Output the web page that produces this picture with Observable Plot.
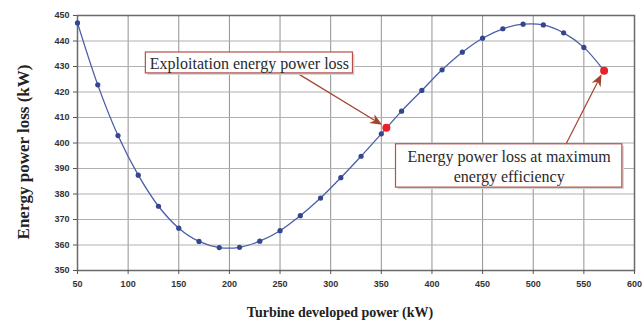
<!DOCTYPE html>
<html>
<head>
<meta charset="utf-8">
<script src="https://cdn.jsdelivr.net/npm/d3@7"></script>
<script src="https://cdn.jsdelivr.net/npm/@observablehq/plot@0.6"></script>
<style>
  html, body { margin: 0; padding: 0; background: #fff; }
  #chart svg { display: block; }
</style>
</head>
<body>
<div id="chart"></div>
<script>
// Curve samples: turbine developed power (kW) vs energy power loss (kW)
const power = [50, 70, 90, 110, 130, 150, 170, 190, 210, 230, 250, 270, 290, 310, 330, 350, 370, 390, 410, 430, 450, 470, 490, 510, 530, 550];
const loss  = [447.1, 422.8, 402.9, 387.4, 375.2, 366.6, 361.4, 359.0, 359.1, 361.5, 365.6, 371.5, 378.4, 386.4, 394.8, 403.6, 412.5, 420.6, 428.7, 435.6, 441.1, 444.8, 446.6, 446.3, 443.2, 437.5];

// Highlighted points
const highlightPower = [355, 570];
const highlightLoss  = [406.0, 428.3];

// Annotation labels (box extents and arrow starts in data units)
const annLabels = [["Exploitation energy power loss"], ["Energy power loss at maximum", "energy efficiency"]];
const annBoxX1 = [117.5, 364.5];
const annBoxX2 = [322, 588];
const annBoxY1 = [435.5, 399.5];
const annBoxY2 = [427.3, 382.5];
const annFromX = [267, 533];
const annFromY = [427.3, 399.5];

const xTicks = d3.range(50, 601, 50);
const yTicks = d3.range(350, 451, 10);

const xTitle = "Turbine developed power (kW)";
const yTitle = "Energy power loss (kW)";

const curve = power.map((p, i) => ({x: p, y: loss[i]}));
curve.push({x: highlightPower[1], y: highlightLoss[1]});
const samples = power.map((p, i) => ({x: p, y: loss[i]}));
const highlights = highlightPower.map((p, i) => ({x: p, y: highlightLoss[i]}));
const boxes = annLabels.map((lines, i) => ({
  x1: annBoxX1[i], x2: annBoxX2[i], y1: annBoxY1[i], y2: annBoxY2[i],
  cx: (annBoxX1[i] + annBoxX2[i]) / 2, cy: (annBoxY1[i] + annBoxY2[i]) / 2,
  text: lines.join("\n"),
  fx: annFromX[i], fy: annFromY[i], tx: highlightPower[i], ty: highlightLoss[i]
}));

const serif = "'Liberation Serif', 'Times New Roman', serif";
const sans = "'Liberation Sans', Arial, sans-serif";
const arrowColor = "#a3432d";

// custom arrows with filled heads
function arrows(index, scales) {
  const g = d3.create("svg:g");
  for (const b of boxes) {
    const x0 = scales.x(b.fx), y0 = scales.y(b.fy);
    let x1 = scales.x(b.tx), y1 = scales.y(b.ty);
    const ang = Math.atan2(y1 - y0, x1 - x0);
    const inset = 4.5;
    x1 -= inset * Math.cos(ang); y1 -= inset * Math.sin(ang);
    const hl = 12, hw = 5;
    const bx = x1 - hl * Math.cos(ang), by = y1 - hl * Math.sin(ang);
    const mx = x1 - hl * 0.7 * Math.cos(ang), my = y1 - hl * 0.7 * Math.sin(ang);
    g.append("line").attr("x1", x0).attr("y1", y0).attr("x2", mx).attr("y2", my)
      .attr("stroke", arrowColor).attr("stroke-width", 1.2);
    const px = -Math.sin(ang), py = Math.cos(ang);
    g.append("path")
      .attr("d", `M${x1},${y1}L${bx + hw * px},${by + hw * py}L${mx},${my}L${bx - hw * px},${by - hw * py}Z`)
      .attr("fill", arrowColor);
  }
  return g.node();
}

const chart = Plot.plot({
  width: 643,
  height: 325,
  marginLeft: 77,
  marginRight: 9,
  marginTop: 15,
  marginBottom: 55,
  x: {domain: [50, 600]},
  y: {domain: [350, 450]},
  style: {background: "#fff"},
  marks: [
    Plot.gridX(xTicks, {stroke: "#929292", strokeOpacity: 1, strokeWidth: 1}),
    Plot.gridY(yTicks, {stroke: "#b0b0b0", strokeOpacity: 1, strokeWidth: 1}),
    Plot.frame({stroke: "#6a6a6a", strokeWidth: 1.5}),
    Plot.axisX(xTicks, {tickSize: 4, tickPadding: 6, fontSize: 9, fontWeight: "bold", fill: "#333", stroke: "#555", label: null, fontFamily: sans}),
    Plot.axisY(yTicks, {tickSize: 4, tickPadding: 4, fontSize: 9, fontWeight: "bold", fill: "#333", stroke: "#555", label: null, fontFamily: sans}),
    Plot.line(curve, {x: "x", y: "y", curve: "catmull-rom", stroke: "#4a5ea8", strokeWidth: 1.3}),
    Plot.dot(samples, {x: "x", y: "y", r: 2.6, fill: "#34468f", stroke: "none"}),
    Plot.dot(highlights, {x: "x", y: "y", r: 4, fill: "#e8202a", stroke: "none"}),
    arrows,
    Plot.rect(boxes, {x1: "x1", x2: "x2", y1: "y1", y2: "y2", fill: "#d4d4d4", dx: 2, dy: 2}),
    Plot.rect(boxes, {x1: "x1", x2: "x2", y1: "y1", y2: "y2", fill: "#fff", stroke: "#b5504a", strokeWidth: 1.2}),
    Plot.text(boxes, {x: "cx", y: "cy", text: "text", fontSize: 16, fontFamily: serif, fill: "#2a2a2a", lineHeight: 1.2}),
    Plot.text([xTitle], {frameAnchor: "bottom", textAnchor: "middle", dx: -16, dy: 46, fontSize: 14, fontWeight: "bold", fontFamily: serif, fill: "#222"}),
    Plot.text([yTitle], {frameAnchor: "left", textAnchor: "middle", rotate: -90, dx: -54, dy: 9, fontSize: 17, fontWeight: "bold", fontFamily: serif, fill: "#222"})
  ]
});
document.getElementById("chart").append(chart);
</script>
</body>
</html>
